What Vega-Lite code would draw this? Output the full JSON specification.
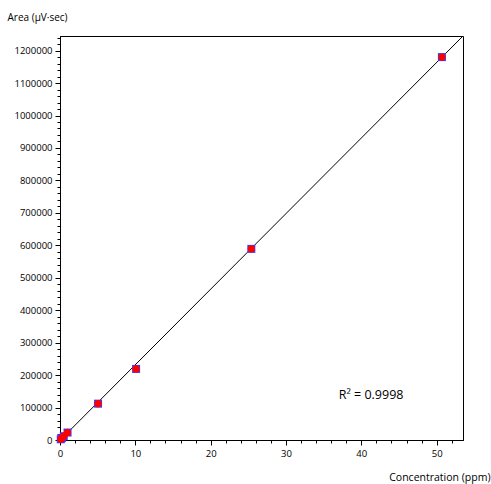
{
  "$schema": "https://vega.github.io/schema/vega-lite/v6.json",
  "width": 403,
  "height": 404,
  "autosize": {"type": "none"},
  "padding": {"left": 60, "top": 36, "right": 28, "bottom": 44},
  "background": "white",
  "config": {
    "view": {"stroke": "#000", "strokeWidth": 1},
    "font": "Open Sans",
    "axis": {
      "domainColor": "#000",
      "tickColor": "#000",
      "labelColor": "#000",
      "titleColor": "#000",
      "labelFont": "Open Sans",
      "titleFont": "Open Sans",
      "labelFontSize": 9.5,
      "titleFontSize": 10,
      "titleFontWeight": "normal",
      "grid": false
    }
  },
  "datasets": {
    "pts": [
      {"conc": 0.1, "area": 2300},
      {"conc": 0.25, "area": 5800},
      {"conc": 0.5, "area": 11700},
      {"conc": 1.0, "area": 23000},
      {"conc": 5.05, "area": 112000},
      {"conc": 10.1, "area": 219000},
      {"conc": 25.4, "area": 589000},
      {"conc": 50.7, "area": 1180000}
    ],
    "fit": [
      {"conc": 0, "area": -1000},
      {"conc": 53.5, "area": 1245000}
    ],
    "note": [
      {"conc": 41.3, "area": 139000, "label": "R² = 0.9998"}
    ]
  },
  "resolve": {"axis": {"x": "independent", "y": "independent"}},
  "layer": [
    {
      "data": {"name": "fit"},
      "mark": {"type": "line", "color": "#000", "strokeWidth": 1, "clip": true},
      "encoding": {
        "x": {
          "field": "conc", "type": "quantitative",
          "scale": {"domain": [0, 53.5], "nice": false, "zero": false},
          "axis": {
            "orient": "bottom",
            "values": [0,2,4,6,8,12,14,16,18,22,24,26,28,32,34,36,38,42,44,46,48,52],
            "labels": false,
            "tickSize": 3,
            "title": null
          }
        },
        "y": {
          "field": "area", "type": "quantitative",
          "scale": {"domain": [0, 1245000], "nice": false, "zero": false},
          "axis": {
            "orient": "left",
            "values": [20000,40000,60000,80000,120000,140000,160000,180000,220000,240000,260000,280000,320000,340000,360000,380000,420000,440000,460000,480000,520000,540000,560000,580000,620000,640000,660000,680000,720000,740000,760000,780000,820000,840000,860000,880000,920000,940000,960000,980000,1020000,1040000,1060000,1080000,1120000,1140000,1160000,1180000,1220000,1240000],
            "labels": false,
            "tickSize": 3,
            "title": null
          }
        }
      }
    },
    {
      "data": {"name": "pts"},
      "mark": {"type": "point", "shape": "square", "filled": true, "color": "#3b3bff", "opacity": 1, "size": 64},
      "encoding": {
        "x": {
          "field": "conc", "type": "quantitative",
          "axis": {
            "orient": "bottom",
            "values": [0,10,20,30,40,50],
            "tickSize": 5,
            "labelPadding": 3,
            "labelFlush": false,
            "labelOverlap": false,
            "title": "Concentration (ppm)",
            "titleAnchor": "end",
            "titleAlign": "right",
            "titleBaseline": "alphabetic",
            "titleX": 430,
            "titleY": 40,
            "titleFontSize": 10.5
          }
        },
        "y": {
          "field": "area", "type": "quantitative",
          "axis": {
            "orient": "left",
            "values": [0,100000,200000,300000,400000,500000,600000,700000,800000,900000,1000000,1100000,1200000],
            "format": "d",
            "tickSize": 5,
            "labelPadding": 3,
            "labelFlush": false,
            "labelOverlap": false,
            "title": "Area (µV·sec)",
            "titleAngle": 0,
            "titleAlign": "left",
            "titleBaseline": "middle",
            "titleX": -53,
            "titleY": -19
          }
        }
      }
    },
    {
      "data": {"name": "pts"},
      "mark": {"type": "point", "shape": "circle", "filled": true, "color": "#ff0000", "opacity": 1, "size": 52},
      "encoding": {
        "x": {"field": "conc", "type": "quantitative", "axis": null},
        "y": {"field": "area", "type": "quantitative", "axis": null}
      }
    },
    {
      "data": {"name": "note"},
      "mark": {"type": "text", "font": "Open Sans", "fontSize": 12.5, "color": "#000", "align": "center", "baseline": "middle"},
      "encoding": {
        "x": {"field": "conc", "type": "quantitative", "axis": null},
        "y": {"field": "area", "type": "quantitative", "axis": null},
        "text": {"field": "label"}
      }
    }
  ]
}
